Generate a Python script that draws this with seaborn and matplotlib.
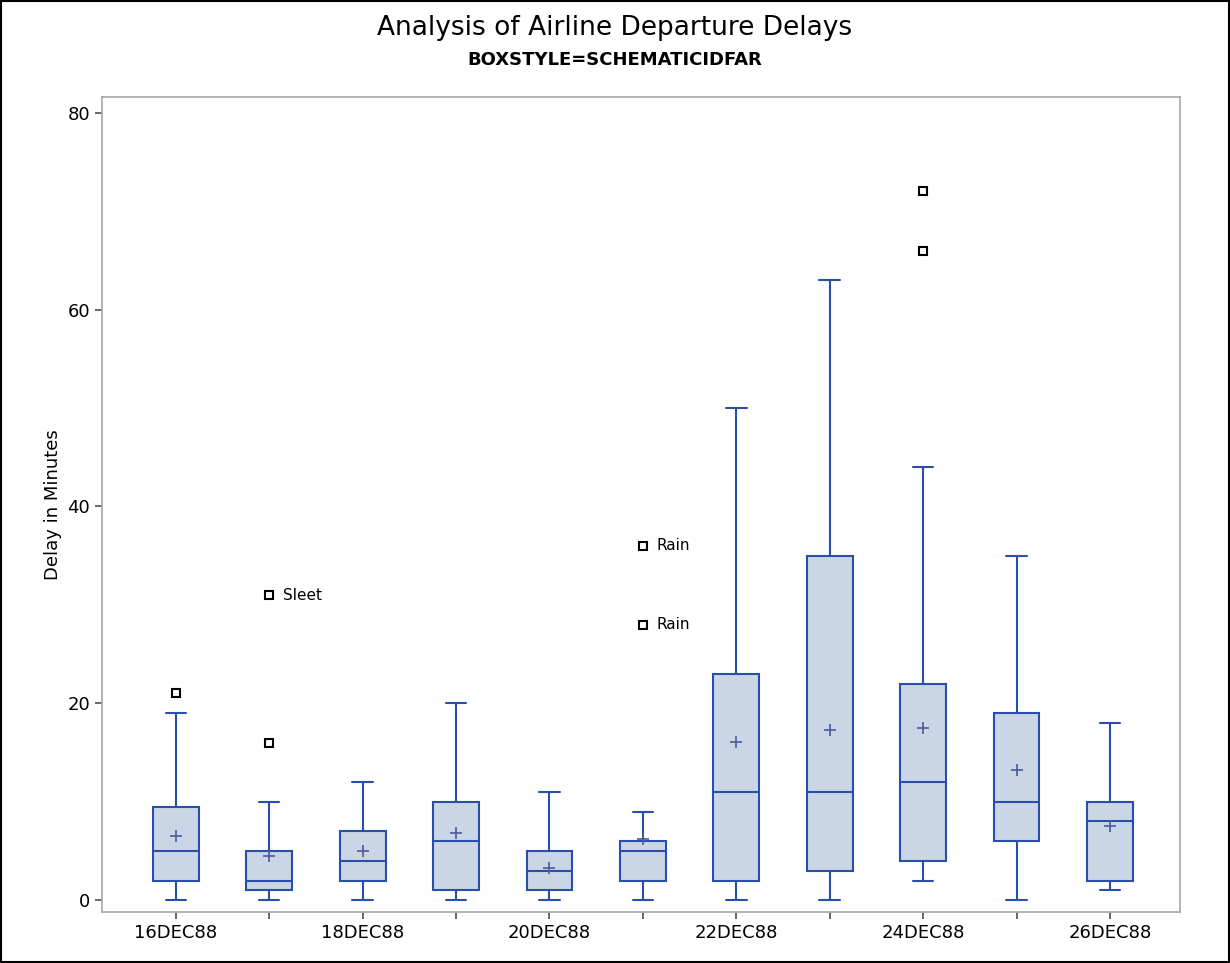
import matplotlib
matplotlib.use('Agg')
import matplotlib.pyplot as plt
import seaborn as sns

sns.set_theme(style='white')
plt.rcParams['font.family'] = ['DejaVu Sans']
plt.rcParams['text.color'] = 'black'
plt.rcParams['axes.labelcolor'] = 'black'
plt.rcParams['xtick.color'] = 'black'
plt.rcParams['ytick.color'] = 'black'

# Data
days = ['16DEC88', '17DEC88', '18DEC88', '19DEC88', '20DEC88', '21DEC88',
        '22DEC88', '23DEC88', '24DEC88', '25DEC88', '26DEC88']
whislo = [0, 0, 0, 0, 0, 0, 0, 0, 2, 0, 1]
q1 = [2, 1, 2, 1, 1, 2, 2, 3, 4, 6, 2]
med = [5, 2, 4, 6, 3, 5, 11, 11, 12, 10, 8]
q3 = [9.5, 5, 7, 10, 5, 6, 23, 35, 22, 19, 10]
whishi = [19, 10, 12, 20, 11, 9, 50, 63, 44, 35, 18]
means = [6.5, 4.5, 5.0, 6.8, 3.3, 6.2, 16.1, 17.3, 17.5, 13.2, 7.5]
fliers = [[21], [16, 31], [], [], [], [28, 36], [], [], [66, 72], [], []]
flier_labels = {(1, 31): 'Sleet', (5, 28): 'Rain', (5, 36): 'Rain'}

stats = []
for i, d in enumerate(days):
    stats.append(dict(label=d, whislo=whislo[i], q1=q1[i], med=med[i], q3=q3[i],
                      whishi=whishi[i], mean=means[i], fliers=fliers[i]))

edge = '#2A4FAA'
fig = plt.figure(figsize=(12.3, 9.63), dpi=100)
ax = fig.add_axes([102 / 1230, 1 - 912 / 963, (1180 - 102) / 1230, (912 - 97) / 963])
ax.bxp(stats, positions=range(len(days)), widths=0.49, patch_artist=True,
       showmeans=True, capwidths=0.22,
       boxprops=dict(facecolor='#CAD5E5', edgecolor=edge, linewidth=1.5),
       medianprops=dict(color=edge, linewidth=1.5),
       whiskerprops=dict(color=edge, linewidth=1.5),
       capprops=dict(color=edge, linewidth=1.5),
       meanprops=dict(marker='+', markeredgecolor='#4A5A9A', markersize=8, markeredgewidth=1.2),
       flierprops=dict(marker='s', markerfacecolor='none', markeredgecolor='black',
                       markersize=6, markeredgewidth=1.5))
for (i, v), txt in flier_labels.items():
    ax.text(i + 0.15, v, txt, va='center', ha='left', fontsize=11)

ax.set_xlim(-0.79, 10.75)
ax.set_ylim(-1.2, 81.6)
ax.set_xticks(range(len(days)))
ax.set_xticklabels([d if k % 2 == 0 else '' for k, d in enumerate(days)], fontsize=13)
ax.set_yticks([0, 20, 40, 60, 80])
ax.tick_params(axis='y', labelsize=13, left=True, length=5, color='#555555')
ax.tick_params(axis='x', bottom=True, length=5, color='#555555')
ax.set_ylabel('Delay in Minutes', fontsize=13)
for s in ax.spines.values():
    s.set_color('#AAAAAA')

fig.text(0.5, 1 - 28 / 963, 'Analysis of Airline Departure Delays', ha='center', va='center',
         fontsize=19, fontweight='medium')
fig.text(0.5, 1 - 60 / 963, 'BOXSTYLE=SCHEMATICIDFAR', ha='center', va='center',
         fontsize=13, fontweight='bold')
fig.patches.append(plt.Rectangle((0.001, 0.001), 0.998, 0.998, transform=fig.transFigure,
                                 fill=False, edgecolor='black', linewidth=1.5))
fig.savefig('out.png', dpi=100)
